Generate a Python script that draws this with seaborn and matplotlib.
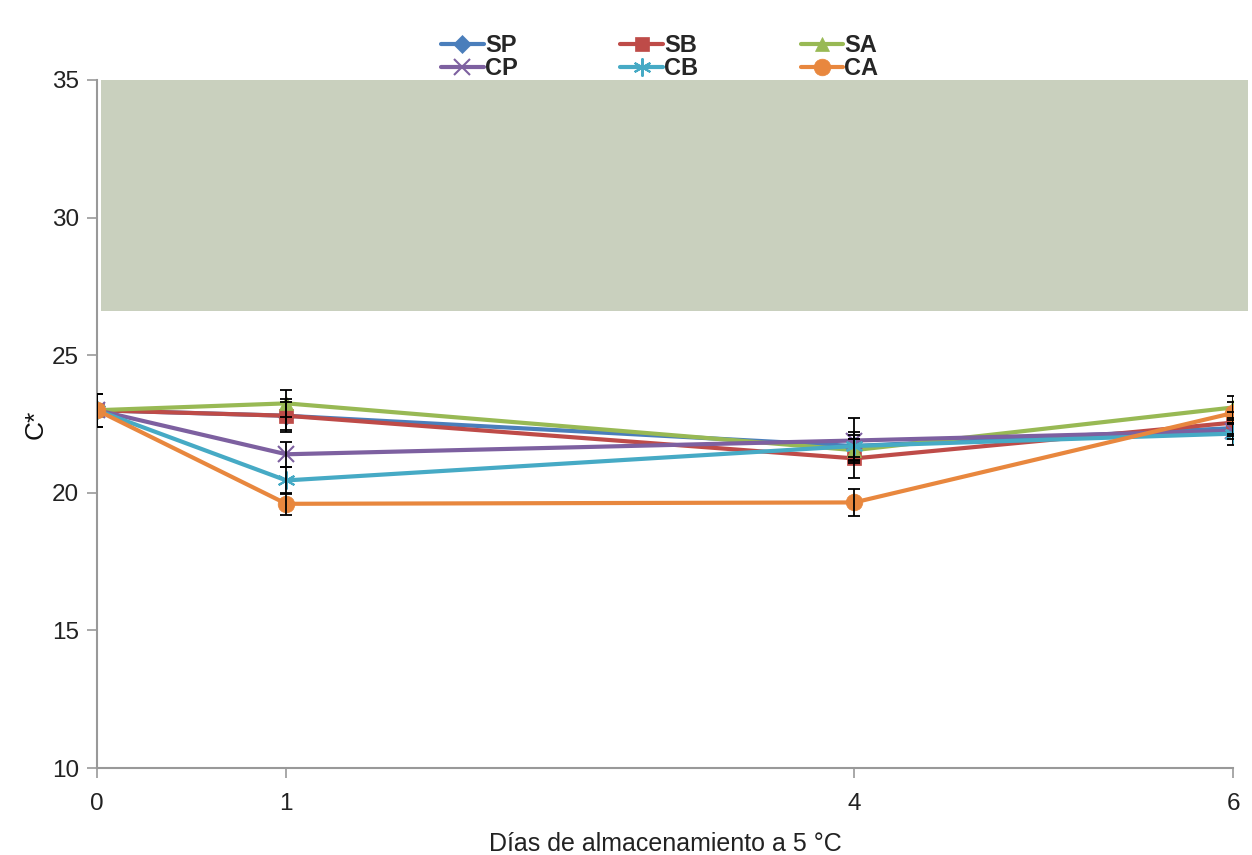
import numpy as np
import pandas as pd
import matplotlib
matplotlib.use("Agg")
import matplotlib.pyplot as plt
from matplotlib.patches import Rectangle
from matplotlib.lines import Line2D
import seaborn as sns

days = [0, 1, 4, 6]
series_names = ["SP", "SB", "SA", "CP", "CB", "CA"]
SP = [23.0, 22.8, 21.7, 22.35]
SB = [23.0, 22.8, 21.25, 22.55]
SA = [23.0, 23.25, 21.55, 23.1]
CP = [23.0, 21.4, 21.9, 22.25]
CB = [23.0, 20.45, 21.7, 22.15]
CA = [23.0, 19.6, 19.65, 22.9]
SP_err = [0.6, 0.5, 0.5, 0.3]
SB_err = [0.6, 0.6, 0.7, 0.4]
SA_err = [0.6, 0.5, 0.4, 0.4]
CP_err = [0.6, 0.45, 0.8, 0.3]
CB_err = [0.6, 0.5, 0.4, 0.4]
CA_err = [0.6, 0.4, 0.5, 0.4]
band_low, band_high = 26.6, 35
yticks = [10, 15, 20, 25, 30, 35]

values = {"SP": SP, "SB": SB, "SA": SA, "CP": CP, "CB": CB, "CA": CA}
errors = {"SP": SP_err, "SB": SB_err, "SA": SA_err, "CP": CP_err, "CB": CB_err, "CA": CA_err}
colors = {"SP": "#4A7EBB", "SB": "#BE4B48", "SA": "#98B954",
          "CP": "#7D60A0", "CB": "#46AAC5", "CA": "#E8873E"}
markers = {"SP": "D", "SB": "s", "SA": "^", "CP": "x", "CB": (6, 2, 0), "CA": "o"}
msizes = {"SP": 9, "SB": 10, "SA": 10, "CP": 11, "CB": 13, "CA": 12}

rows = []
for s in series_names:
    for d, v, e in zip(days, values[s], errors[s]):
        rows.append({"day": d, "val": v, "err": e, "serie": s})
df = pd.DataFrame(rows)

sns.set_style("white")
plt.rcParams["font.family"] = ["Liberation Sans", "DejaVu Sans"]

fig = plt.figure(figsize=(12.52, 8.55), dpi=100)
ax = fig.add_axes([97 / 1252, 1 - 768 / 855, (1233 - 97) / 1252, (768 - 80) / 855])

# grey band
band = Rectangle((0.02, band_low), 6.06, band_high - band_low, facecolor="#C9D0BE",
                 edgecolor="none", clip_on=False, zorder=0.5)
ax.add_patch(band)

for s in series_names:
    sub = df[df["serie"] == s]
    sns.lineplot(data=sub, x="day", y="val", ax=ax, color=colors[s], lw=3,
                 marker=markers[s], markersize=msizes[s], markeredgecolor=colors[s],
                 markeredgewidth=1.5 if s in ("CP", "CB") else 0.5,
                 estimator=None, errorbar=None, zorder=3, legend=False)
for s in series_names:
    sub = df[df["serie"] == s]
    ax.errorbar(sub["day"], sub["val"], yerr=sub["err"], fmt="none", ecolor="black",
                elinewidth=1.3, capsize=4, capthick=1.3, zorder=4)

ax.set_xlim(0, 6)
ax.set_ylim(10, 35)
ax.set_xticks(days)
ax.set_xticklabels([str(d) for d in days])
ax.set_yticks(yticks)
ax.set_yticklabels([str(t) for t in yticks])
for sp in ["top", "right"]:
    ax.spines[sp].set_visible(False)
for sp in ["left", "bottom"]:
    ax.spines[sp].set_color("#999999")
    ax.spines[sp].set_linewidth(1.5)
ax.tick_params(axis="both", direction="out", length=7, width=1.2, color="#999999",
               labelsize=17.5, labelcolor="#222222", left=True, bottom=True)
ax.tick_params(axis="x", pad=11)
ax.tick_params(axis="y", pad=6)
ax.set_xlabel("Días de almacenamiento a 5 °C", fontsize=18, color="#222222", labelpad=12)
ax.set_ylabel("C*", fontsize=19, color="#111111", labelpad=3)

order = ["SP", "CP", "SB", "CB", "SA", "CA"]
handles = [Line2D([], [], color=colors[s], lw=3, marker=markers[s], markersize=msizes[s],
                  markeredgecolor=colors[s], markeredgewidth=1.5 if s in ("CP", "CB") else 0.5)
           for s in order]
fig.legend(handles, order, loc="center", bbox_to_anchor=(0.527, 1 - 57 / 855), ncol=3,
           frameon=False, prop={"weight": "bold", "size": 17}, handlelength=1.8,
           handletextpad=0.05, columnspacing=4.35, labelspacing=0.0)

fig.savefig("out.png", dpi=100)
